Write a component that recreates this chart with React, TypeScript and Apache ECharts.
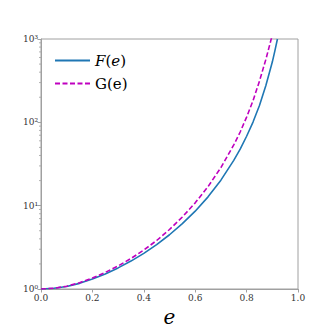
import React, { useEffect, useRef } from "react";
import * as echarts from "echarts";

const eccentricity = [0, 0.05, 0.1, 0.15, 0.2, 0.25, 0.3, 0.35, 0.4, 0.45, 0.5, 0.55, 0.6, 0.65, 0.7, 0.75, 0.775, 0.8, 0.825, 0.85, 0.875, 0.9, 0.91, 0.92];
const fValues = [1, 1.019, 1.072, 1.169, 1.315, 1.517, 1.791, 2.163, 2.679, 3.412, 4.477, 6.081, 8.59, 12.76, 20.23, 34.91, 47.64, 68.08, 100.7, 159.6, 277.3, 528.4, 721, 1000];
const gEccentricity = [0, 0.05, 0.1, 0.15, 0.2, 0.25, 0.3, 0.35, 0.4, 0.45, 0.5, 0.55, 0.6, 0.65, 0.7, 0.75, 0.775, 0.8, 0.825, 0.85, 0.875, 0.9];
const gValues = [1, 1.021, 1.079, 1.191, 1.355, 1.581, 1.892, 2.323, 2.931, 3.819, 5.176, 7.311, 10.81, 16.94, 28.64, 53.58, 76.56, 115.5, 182.0, 312.0, 570.0, 1120];
const yMinorTicks = [2, 3, 4, 5, 6, 7, 8, 9, 20, 30, 40, 50, 60, 70, 80, 90, 200, 300, 400, 500, 600, 700, 800, 900];
const supers: Record<string, string> = { "0": "⁰", "1": "¹", "2": "²", "3": "³" };

const SERIF = "DejaVu Serif";

export default function App() {
  const ref = useRef<HTMLDivElement>(null);
  useEffect(() => {
    if (!ref.current) return;
    const chart = echarts.init(ref.current, undefined, { renderer: "svg" });
    chart.setOption({
      animation: false,
      backgroundColor: "#ffffff",
      grid: { left: 41, top: 39, right: 34, bottom: 41, show: true, borderColor: "#a0a0a0", borderWidth: 1 },
      legend: {
        data: ["F(e)", "G(e)"],
        orient: "vertical",
        left: 49,
        top: 48,
        itemWidth: 35,
        itemHeight: 16,
        itemGap: 8,
        itemStyle: { color: "transparent", borderColor: "transparent", borderWidth: 0, opacity: 0 },
        textStyle: {
          fontFamily: SERIF,
          fontSize: 15,
          color: "#000",
          rich: {
            i: { fontFamily: SERIF, fontStyle: "italic", fontSize: 15, color: "#000" },
            r: { fontFamily: SERIF, fontSize: 15, color: "#000" },
          },
        },
        formatter: (name: string) => (name === "F(e)" ? "{i|F}{r|(}{i|e}{r|)}" : "{r|G(e)}"),
      },
      xAxis: {
        type: "value",
        min: 0,
        max: 1,
        interval: 0.2,
        name: "e",
        nameLocation: "middle",
        nameGap: 18,
        nameTextStyle: { fontFamily: SERIF, fontStyle: "italic", fontSize: 20, color: "#000" },
        axisLine: { show: true, lineStyle: { color: "#a0a0a0", width: 1 } },
        axisTick: { show: true, length: 3.5, lineStyle: { color: "#a0a0a0" } },
        axisLabel: {
          fontFamily: SERIF,
          fontSize: 9,
          color: "#333",
          margin: 4,
          formatter: (v: number) => v.toFixed(1),
        },
        splitLine: { show: false },
      },
      yAxis: {
        type: "log",
        logBase: 10,
        min: 1,
        max: 1000,
        axisLine: { show: true, lineStyle: { color: "#a0a0a0", width: 1 } },
        axisTick: { show: true, length: 3.5, lineStyle: { color: "#a0a0a0" } },
        axisLabel: {
          fontFamily: SERIF,
          fontSize: 9,
          color: "#333",
          margin: 3,
          formatter: (v: number) => {
            const p = Math.round(Math.log10(v)).toString();
            return "10" + (supers[p] || p);
          },
        },
        splitLine: { show: false },
      },
      series: [
        {
          name: "F(e)",
          type: "line",
          data: eccentricity.map((e, i) => [e, fValues[i]]),
          showSymbol: false,
          symbol: "none",
          clip: true,
          lineStyle: { color: "#1f77b4", width: 1.6 },
          itemStyle: { color: "#1f77b4" },
          z: 3,
        },
        {
          name: "G(e)",
          type: "line",
          data: gEccentricity.map((e, i) => [e, gValues[i]]),
          showSymbol: false,
          symbol: "none",
          clip: true,
          lineStyle: { color: "#bf00bf", width: 1.6, type: [5, 2.5] },
          itemStyle: { color: "#bf00bf" },
          z: 4,
        },
        {
          type: "custom",
          silent: true,
          clip: false,
          data: yMinorTicks.map((v) => [0, v]),
          renderItem: (params: any, api: any) => {
            const p = api.coord([0, api.value(1)]);
            return {
              type: "line",
              shape: { x1: p[0] - 2, y1: p[1], x2: p[0], y2: p[1] },
              style: { stroke: "#a0a0a0", lineWidth: 0.8 },
            };
          },
        },
      ],
    });
    return () => chart.dispose();
  }, []);
  return <div ref={ref} style={{ position: "fixed", left: 0, top: 0, width: 332, height: 332 }} />;
}
